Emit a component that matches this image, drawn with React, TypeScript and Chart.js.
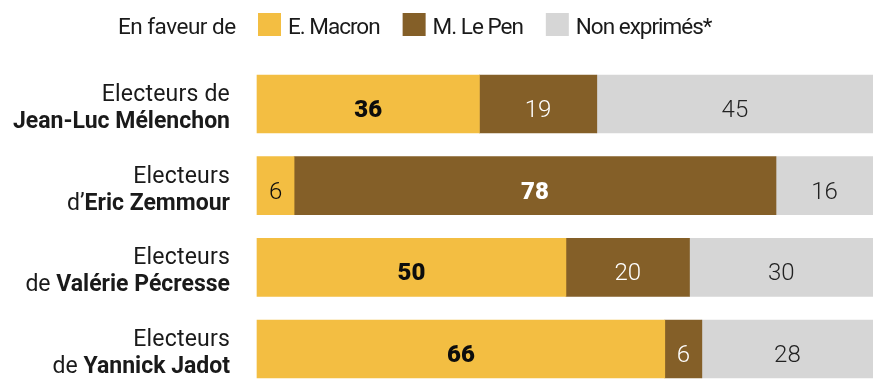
import React, { useEffect, useRef } from "react";
import { Chart, registerables } from "chart.js";

Chart.register(...registerables);

// ---- Data ----
const rowLine1 = ["Electeurs de", "Electeurs", "Electeurs", "Electeurs"];
const rowPrefix = ["", "d’", "de ", "de "];
const rowNames = ["Jean-Luc Mélenchon", "Eric Zemmour", "Valérie Pécresse", "Yannick Jadot"];
const seriesNames = ["E. Macron", "M. Le Pen", "Non exprimés*"];
const macron = [36, 6, 50, 66];
const lePen = [19, 78, 20, 6];
const nonExprimes = [45, 16, 30, 28];
const legendIntro = "En faveur de";

const COLORS = ["#F3BE42", "#845F28", "#D6D6D6"];
const TEXT_COLORS = ["#0d0d0d", "#FFFFFF", "#222222"];
const FONT = "Roboto, 'Liberation Sans', sans-serif";

const W = 873;
const H = 380;

export default function App() {
  const ref = useRef<HTMLCanvasElement | null>(null);

  useEffect(() => {
    const canvas = ref.current;
    if (!canvas) return;

    const overlay = {
      id: "overlay",
      afterDatasetsDraw(chart: any) {
        const ctx = chart.ctx as any;
        const area = chart.chartArea;
        ctx.save();
        // value labels
        chart.data.datasets.forEach((ds: any, di: number) => {
          const meta = chart.getDatasetMeta(di);
          meta.data.forEach((bar: any, i: number) => {
            const v = ds.data[i];
            const main = Math.max(macron[i], lePen[i]);
            const bold = di < 2 && v === main;
            const x0 = bar.base;
            const x1 = Math.min(bar.x, W);
            const cx = (x0 + x1) / 2;
            ctx.letterSpacing = "0px";
            ctx.font = `${bold ? "900 " : "300 "}24px ${FONT}`;
            ctx.fillStyle = TEXT_COLORS[di];
            ctx.textAlign = "center";
            ctx.textBaseline = "alphabetic";
            ctx.fillText(String(v), cx, bar.y + 13);
          });
        });
        // row labels
        const yScale = chart.scales.y;
        const right = area.left - 27;
        rowNames.forEach((name, i) => {
          const y = yScale.getPixelForValue(i);
          ctx.fillStyle = "#1a1a1a";
          ctx.textAlign = "right";
          ctx.letterSpacing = "0.2px";
          ctx.font = `23px ${FONT}`;
          ctx.fillText(rowLine1[i], right, y - 3);
          ctx.letterSpacing = "0px";
          ctx.font = `bold 23px ${FONT}`;
          const nw = ctx.measureText(name).width;
          ctx.fillText(name, right, y + 24);
          if (rowPrefix[i]) {
            ctx.font = `23px ${FONT}`;
            ctx.fillText(rowPrefix[i], right - nw, y + 24);
          }
        });
        // legend
        ctx.textAlign = "left";
        ctx.letterSpacing = "-0.5px";
        ctx.font = `22.5px ${FONT}`;
        ctx.fillStyle = "#1a1a1a";
        const base = 34;
        ctx.fillText(legendIntro, 118, base);
        ctx.letterSpacing = "-1px";
        let x = 258;
        seriesNames.forEach((s, k) => {
          ctx.fillStyle = COLORS[k];
          ctx.fillRect(x, 13, 23, 23);
          x += 23 + 7;
          ctx.fillStyle = "#1a1a1a";
          ctx.fillText(s, x, base);
          x += ctx.measureText(s).width + 23;
        });
        ctx.restore();
      },
    };

    const chart = new Chart(canvas, {
      type: "bar",
      data: {
        labels: rowNames,
        datasets: [macron, lePen, nonExprimes].map((d, k) => ({
          label: seriesNames[k],
          data: d,
          backgroundColor: COLORS[k],
          borderWidth: 0,
          barThickness: 58,
          clip: false as any,
        })),
      },
      options: {
        indexAxis: "y",
        animation: false,
        responsive: false,
        maintainAspectRatio: false,
        layout: { padding: { left: 257, right: 0, top: 104, bottom: 31 } },
        scales: {
          x: { stacked: true, min: 0, max: 99.7, display: false },
          y: { stacked: true, display: false, offset: false },
        },
        plugins: {
          legend: { display: false },
          tooltip: { enabled: false },
        },
      },
      plugins: [overlay],
    });
    return () => chart.destroy();
  }, []);

  return (
    <div style={{ position: "absolute", left: 0, top: 0, width: W, height: H, background: "#fff" }}>
      <canvas ref={ref} width={W} height={H} style={{ width: W, height: H, display: "block" }} />
    </div>
  );
}
